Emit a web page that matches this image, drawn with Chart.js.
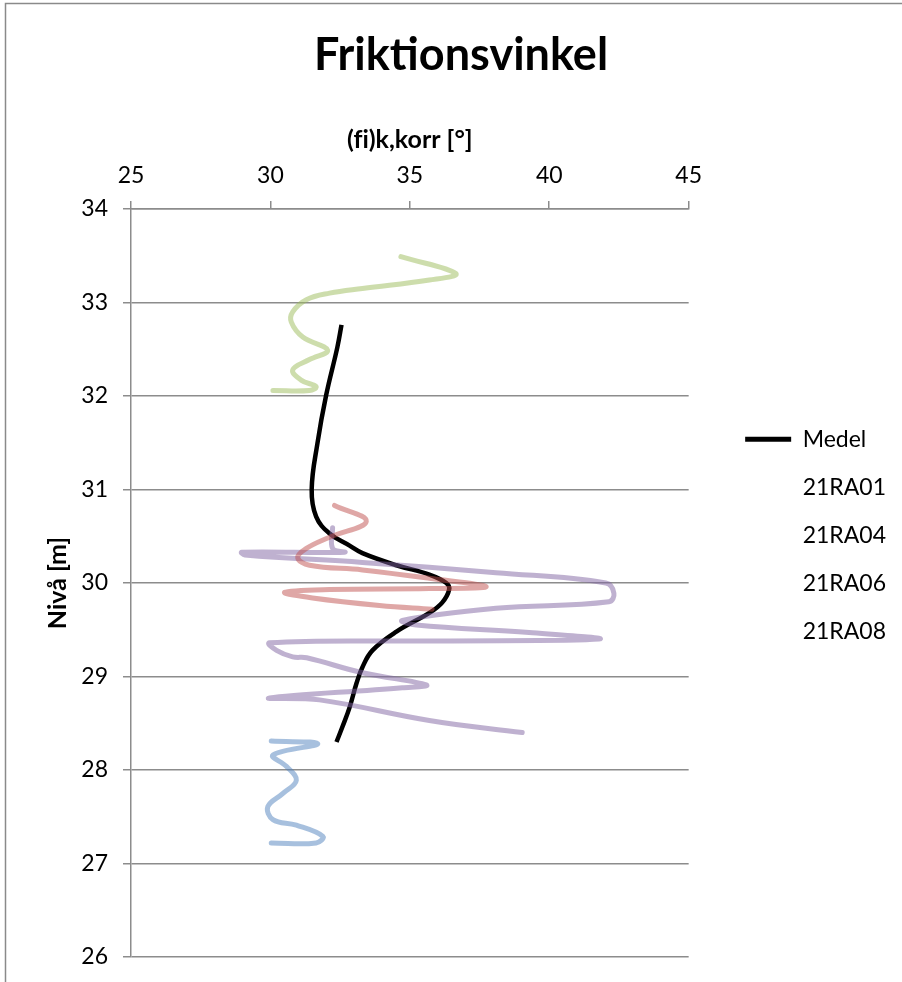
<!DOCTYPE html>
<html>
<head>
<meta charset="utf-8">
<script src="https://cdn.jsdelivr.net/npm/chart.js@4.4.1/dist/chart.umd.min.js"></script>
<style>
  html, body { margin: 0; padding: 0; background: #fff; }
  canvas { display: block; }
</style>
</head>
<body>
<canvas id="chart" width="902" height="982"></canvas>
<script>
// Series labels and axis ticks
const seriesNames = ['Medel', '21RA01', '21RA04', '21RA06', '21RA08'];
const angleTicks = [25, 30, 35, 40, 45];
const levelTicks = [26, 27, 28, 29, 30, 31, 32, 33, 34];

// Medel: friction angle (°) against level (m)
const medelAngle = [32.55, 32.40, 32.00, 31.69, 31.48, 31.64, 32.12, 32.84, 33.30, 34.52, 35.70, 36.31, 36.41, 36.16, 35.70, 34.52, 33.66, 33.30, 33.09, 32.84, 32.58, 32.37];
const medelLevel = [32.76, 32.52, 32.01, 31.50, 31.00, 30.71, 30.53, 30.40, 30.32, 30.19, 30.09, 30.00, 29.93, 29.79, 29.68, 29.48, 29.28, 29.10, 28.93, 28.67, 28.46, 28.30];

// 21RA01
const ra01Angle = [30.03, 31.70, 30.09, 30.57, 30.93, 30.45, 29.91, 30.09, 30.93, 31.88, 31.64, 30.03];
const ra01Level = [28.31, 28.28, 28.16, 28.04, 27.89, 27.75, 27.61, 27.47, 27.41, 27.29, 27.22, 27.22];

// 21RA04
const ra04Angle = [32.30, 33.44, 32.12, 31.29, 30.98, 31.40, 33.30, 35.70, 37.74, 35.70, 32.12, 30.51, 31.51, 33.91, 35.80];
const ra04Level = [30.83, 30.66, 30.49, 30.37, 30.27, 30.19, 30.14, 30.05, 29.96, 29.94, 29.93, 29.90, 29.84, 29.76, 29.72];

// 21RA06
const ra06Angle = [34.68, 36.65, 35.70, 33.30, 32.12, 31.29, 30.80, 30.75, 31.16, 32.05, 31.40, 30.80, 31.10, 31.64, 31.40, 30.09];
const ra06Level = [33.49, 33.31, 33.24, 33.15, 33.10, 33.03, 32.90, 32.79, 32.63, 32.49, 32.39, 32.28, 32.17, 32.10, 32.06, 32.06];

// 21RA08
const ra08Angle = [32.23, 32.23, 32.66, 28.97, 29.08, 33.30, 38.09, 42.03, 42.32, 42.14, 38.09, 34.73, 35.23, 39.28, 41.78, 35.70, 29.97, 30.22, 30.80, 31.30, 33.30, 35.59, 34.73, 29.97, 31.76, 35.70, 39.03];
const ra08Level = [30.59, 30.37, 30.33, 30.33, 30.30, 30.22, 30.11, 30.00, 29.89, 29.80, 29.73, 29.60, 29.55, 29.47, 29.40, 29.38, 29.36, 29.28, 29.21, 29.20, 29.04, 28.91, 28.88, 28.77, 28.75, 28.53, 28.40];

const seriesColors = ['#000000', 'rgba(79,129,189,0.5)', 'rgba(192,80,77,0.5)', 'rgba(155,187,89,0.5)', 'rgba(128,100,162,0.5)'];

function toPoints(xs, ys) {
  return xs.map((x, i) => ({ x: x, y: ys[i] }));
}

const seriesData = [
  toPoints(medelAngle, medelLevel),
  toPoints(ra01Angle, ra01Level),
  toPoints(ra04Angle, ra04Level),
  toPoints(ra06Angle, ra06Level),
  toPoints(ra08Angle, ra08Level)
];

const FONT = 'Lato, "Open Sans", sans-serif';
const GRID = '#8c8c8c';

// Outer frame of the chart object
const framePlugin = {
  id: 'frame',
  beforeDraw(chart) {
    const ctx = chart.ctx;
    ctx.save();
    ctx.fillStyle = '#fff';
    ctx.fillRect(0, 0, chart.width, chart.height);
    ctx.strokeStyle = '#8a8a8a';
    ctx.lineWidth = 1.5;
    ctx.beginPath();
    ctx.moveTo(5.5, chart.height);
    ctx.lineTo(5.5, 3.5);
    ctx.lineTo(chart.width, 3.5);
    ctx.stroke();
    ctx.restore();
  }
};

const datasets = seriesNames.map((name, i) => ({
  label: name,
  data: seriesData[i],
  showLine: true,
  borderColor: seriesColors[i],
  backgroundColor: seriesColors[i],
  borderWidth: i === 0 ? 4.5 : 5,
  pointRadius: 0,
  pointHoverRadius: 0,
  tension: 0.4,
  fill: false,
  borderCapStyle: i === 0 ? 'butt' : 'round',
  borderJoinStyle: 'round',
  order: i === 0 ? 1 : 0,
  yAxisID: 'y'
}));

new Chart(document.getElementById('chart'), {
  type: 'scatter',
  data: { datasets: datasets },
  plugins: [framePlugin],
  options: {
    responsive: false,
    animation: false,
    events: [],
    layout: { padding: { left: 26, right: 6, top: 0, bottom: 25 } },
    plugins: {
      tooltip: { enabled: false },
      title: {
        display: true,
        text: 'Friktionsvinkel',
        color: '#000',
        font: { family: FONT, size: 45, weight: 'bold' },
        padding: { top: 28, bottom: 0 }
      },
      legend: {
        display: true,
        position: 'right',
        align: 'center',
        title: {
          display: true,
          text: ' ',
          font: { family: FONT, size: 12 },
          padding: { top: 0, bottom: 99 }
        },
        labels: {
          color: '#000',
          font: { family: FONT, size: 23 },
          usePointStyle: true,
          pointStyleWidth: 46,
          padding: 25,
          sort: (a, b) => a.datasetIndex - b.datasetIndex,
          generateLabels(chart) {
            return chart.data.datasets.map((ds, i) => ({
              text: ds.label,
              datasetIndex: i,
              pointStyle: 'line',
              fillStyle: 'rgba(0,0,0,0)',
              strokeStyle: i === 0 ? '#000' : 'rgba(0,0,0,0)',
              lineWidth: i === 0 ? 5 : 1,
              fontColor: '#000',
              hidden: false
            }));
          }
        }
      }
    },
    scales: {
      x: {
        type: 'linear',
        position: 'top',
        min: angleTicks[0],
        max: angleTicks[angleTicks.length - 1],
        afterBuildTicks(scale) { scale.ticks = angleTicks.map(v => ({ value: v })); },
        ticks: { color: '#000', font: { family: FONT, size: 23 }, padding: 12 },
        grid: { drawOnChartArea: false, drawTicks: true, tickLength: 8, color: GRID, lineWidth: 1.5 },
        border: { display: true, color: GRID, width: 1.5 },
        title: {
          display: true,
          text: '(f\u200Ci)k,korr [°]',
          color: '#000',
          font: { family: FONT, size: 25, weight: 'bold' },
          padding: { top: 43, bottom: 0 }
        },
        afterFit(scale) { scale.height = 127; }
      },
      y: {
        type: 'linear',
        position: 'left',
        min: levelTicks[0],
        max: levelTicks[levelTicks.length - 1],
        afterBuildTicks(scale) { scale.ticks = levelTicks.map(v => ({ value: v })); },
        ticks: { color: '#000', font: { family: FONT, size: 23 }, padding: 15 },
        grid: { drawOnChartArea: true, drawTicks: true, tickLength: 8, color: GRID, lineWidth: 1.5 },
        border: { display: true, color: GRID, width: 1.5 },
        title: {
          display: true,
          text: 'Nivå [m]',
          color: '#000',
          font: { family: FONT, size: 25, weight: 'bold' },
          padding: { top: 17, bottom: 0 }
        },
        afterFit(scale) {
          scale.width = 105;
          scale.paddingTop = 0;
          scale.paddingBottom = 0;
        }
      },
      spacer: {
        type: 'linear',
        position: 'right',
        display: false,
        afterFit(scale) { scale.width = 31.5; }
      }
    }
  }
});
</script>
</body>
</html>
